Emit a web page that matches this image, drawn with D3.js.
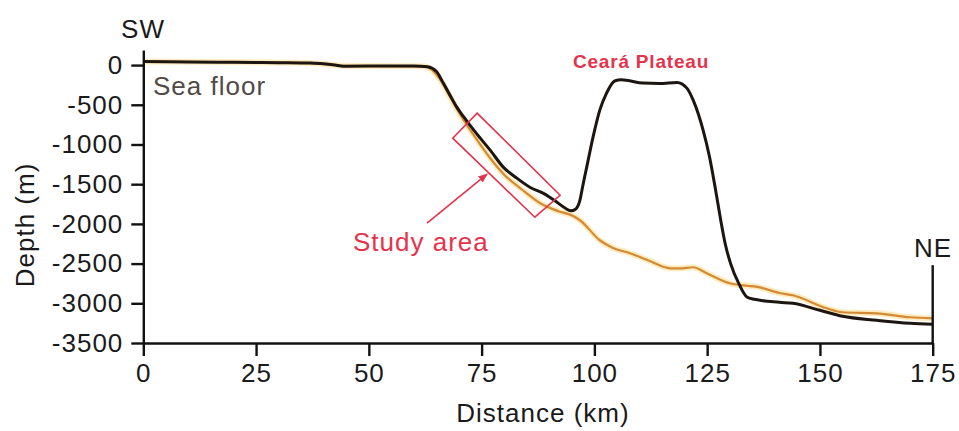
<!DOCTYPE html>
<html>
<head>
<meta charset="utf-8">
<script src="https://cdn.jsdelivr.net/npm/d3@7"></script>
<style>
  body { margin: 0; background: #fff; }
  text { font-family: "Liberation Sans", Arial, sans-serif; }
</style>
</head>
<body>
<svg id="chart"></svg>
<script>
// ------------------ data ---------------------

// profile crossing the Ceará Plateau (km, depth in m)
let plateauKm = [0, 10, 20, 30, 37, 42, 45, 55, 60, 63, 65, 66.5, 68, 69.5, 71, 72.4, 74.7, 76.9, 79.8, 82.8, 85.7, 88.6, 90, 91.7, 93.5, 94.8, 95.8, 96.8, 97.5, 98.3, 99.7, 101.2, 102.7, 104.5, 106, 107.5, 110.7, 114.5, 118.3, 120.5, 121.9, 124.1, 125.5, 126.8, 128, 129, 130.2, 132, 133.8, 135.5, 141, 144, 150, 155, 162.6, 170, 175];
let plateauDepth = [45, 40, 35, 30, 25, 5, -15, -10, -10, -20, -80, -227, -380, -530, -650, -756, -920, -1071, -1285, -1424, -1538, -1613, -1660, -1727, -1800, -1835, -1815, -1700, -1500, -1285, -907, -567, -353, -200, -185, -195, -227, -231, -218, -290, -441, -819, -1150, -1550, -1950, -2250, -2500, -2750, -2920, -2950, -2987, -3000, -3088, -3164, -3214, -3252, -3265];

// profile along the slope (study area)
let slopeKm = [0, 37, 45, 62, 64, 66, 68, 70, 72.5, 74.7, 77, 80, 84, 88, 92, 95.3, 96.8, 101.2, 104, 107.9, 112, 116.8, 119, 121.9, 124.9, 130, 136.7, 141, 144, 151.5, 155, 162.6, 170, 175];
let slopeDepth = [45, 25, -10, -15, -60, -200, -400, -600, -820, -1000, -1180, -1380, -1570, -1740, -1840, -1900, -1954, -2206, -2300, -2370, -2460, -2559, -2560, -2546, -2622, -2748, -2800, -2870, -2899, -3063, -3113, -3126, -3176, -3189];

let xTicks = [0, 25, 50, 75, 100, 125, 150, 175];
let yTicks = [0, -500, -1000, -1500, -2000, -2500, -3000, -3500];

// study area box corners and arrow (km, depth)
let boxKm = [74.0, 92.4, 86.8, 68.6];
let boxDepth = [-605, -1639, -1916, -920];
let arrowKm = [62.9, 76.2];
let arrowDepth = [-1989, -1372];

// ------------------ chart ---------------------

let svgWidth = 959;
let svgHeight = 431;
let red = '#e4344c';

let svg = d3.select('#chart')
    .attr('width', svgWidth)
    .attr('height', svgHeight);

let xScale = d3.scaleLinear()
    .domain([0, 175])
    .range([143.3, 932.7]);

let yScale = d3.scaleLinear()
    .domain([-3500, 190]) // axis line runs a little above 0
    .range([343, 50]);

let lineGen = d3.line()
    .x(function(d) { return xScale(d[0]); })
    .y(function(d) { return yScale(d[1]); })
    .curve(d3.curveMonotoneX);

let slopeData = d3.zip(slopeKm, slopeDepth);
let plateauData = d3.zip(plateauKm, plateauDepth);

// soft yellow glow under the orange profile
svg.append('path')
    .datum(slopeData)
    .attr('d', lineGen)
    .attr('fill', 'none')
    .attr('stroke', '#fbdc8c')
    .attr('stroke-width', 6)
    .attr('stroke-opacity', 0.55);

svg.append('path')
    .datum(slopeData)
    .attr('d', lineGen)
    .attr('fill', 'none')
    .attr('stroke', '#d48a34')
    .attr('stroke-width', 2.2);

svg.append('path')
    .datum(plateauData)
    .attr('d', lineGen)
    .attr('fill', 'none')
    .attr('stroke', '#1c1512')
    .attr('stroke-width', 3)
    .attr('stroke-linejoin', 'round');

// study area box + arrow
let boxPts = d3.zip(boxKm, boxDepth).map(function(d) {
    return [xScale(d[0]), yScale(d[1])];
});
svg.append('polygon')
    .attr('points', boxPts.join(' '))
    .attr('fill', 'none')
    .attr('stroke', red)
    .attr('stroke-width', 1.6);

svg.append('defs').append('marker')
    .attr('id', 'head')
    .attr('viewBox', '0 0 10 10')
    .attr('refX', 9)
    .attr('refY', 5)
    .attr('markerWidth', 6)
    .attr('markerHeight', 6)
    .attr('orient', 'auto')
    .append('path')
    .attr('d', 'M0,1 L10,5 L0,9 z')
    .attr('fill', red);

svg.append('line')
    .attr('x1', xScale(arrowKm[0]))
    .attr('y1', yScale(arrowDepth[0]))
    .attr('x2', xScale(arrowKm[1]))
    .attr('y2', yScale(arrowDepth[1]))
    .attr('stroke', red)
    .attr('stroke-width', 1.6)
    .attr('marker-end', 'url(#head)');

// ------------------ axes ---------------------

let xAxis = d3.axisBottom(xScale)
    .tickValues(xTicks)
    .tickSizeInner(13)
    .tickSizeOuter(0)
    .tickPadding(8);

let yAxis = d3.axisLeft(yScale)
    .tickValues(yTicks)
    .tickFormat(function(d) { return String(d); }) // plain hyphen, no thousands comma
    .tickSizeInner(12)
    .tickSizeOuter(0)
    .tickPadding(8);

let gx = svg.append('g')
    .attr('transform', 'translate(0,' + yScale(-3500) + ')')
    .call(xAxis);

let gy = svg.append('g')
    .attr('transform', 'translate(' + xScale(0) + ',0)')
    .call(yAxis);

[gx, gy].forEach(function(g) {
    g.selectAll('path, line').attr('stroke', '#111').attr('stroke-width', 2.4);
    g.selectAll('text')
        .attr('fill', '#1a1a1a')
        .style('font-size', '26px')
        .style('letter-spacing', '1px');
});

// NE end marker
svg.append('line')
    .attr('x1', xScale(175))
    .attr('x2', xScale(175))
    .attr('y1', yScale(-2520))
    .attr('y2', yScale(-3500))
    .attr('stroke', '#111')
    .attr('stroke-width', 2.4);

// ------------------ labels ---------------------

function label(txt, x, y, opts) {
    return svg.append('text')
        .attr('x', x)
        .attr('y', y)
        .attr('text-anchor', opts.anchor || 'start')
        .attr('fill', opts.fill || '#1a1a1a')
        .style('font-size', opts.size || '26px')
        .style('font-weight', opts.weight || 'normal')
        .style('letter-spacing', opts.spacing || '1px')
        .text(txt);
}

label('SW', 143, 38, { anchor: 'middle' });
label('NE', 933, 257, { anchor: 'middle' });
label('Sea floor', 153, 95, { fill: '#524a44' });
label('Study area', 353, 251, { fill: red });
label('Ceará Plateau', 641, 68, { anchor: 'middle', fill: red, size: '19px', weight: 'bold', spacing: '0.8px' });
label('Distance (km)', 543, 422, { anchor: 'middle' });

svg.append('text')
    .attr('transform', 'translate(34,225) rotate(-90)')
    .attr('text-anchor', 'middle')
    .attr('fill', '#1a1a1a')
    .style('font-size', '26px')
    .style('letter-spacing', '1px')
    .text('Depth (m)');
</script>
</body>
</html>
